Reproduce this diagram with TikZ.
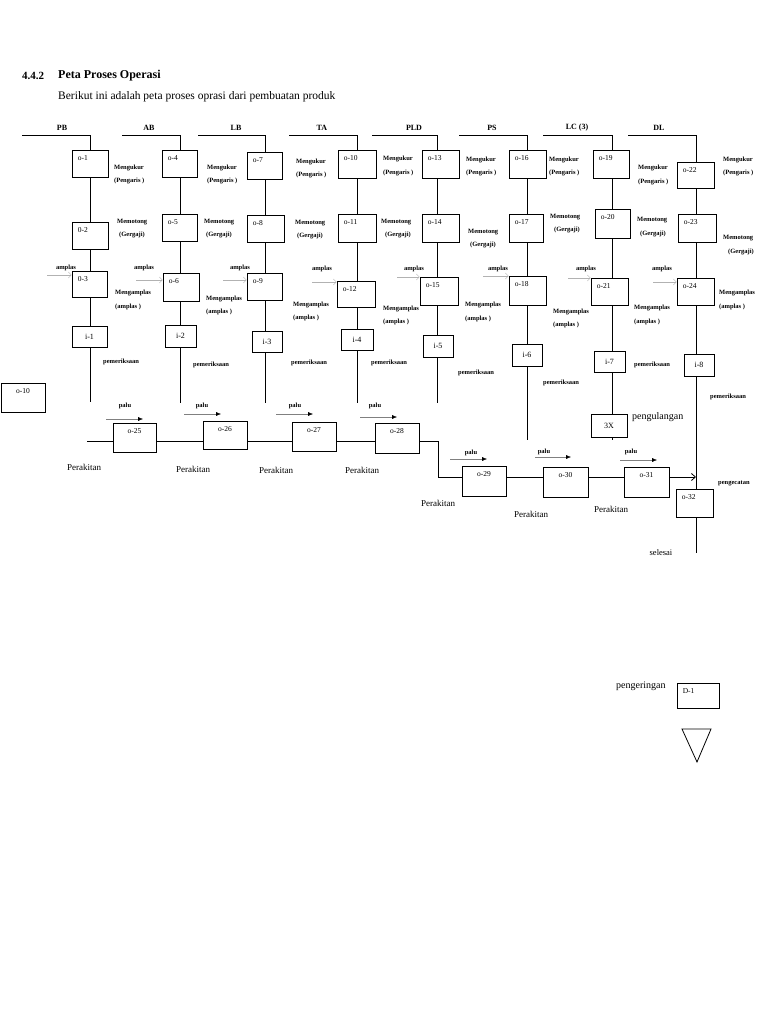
\documentclass[tikz,border=0pt]{standalone}
\usepackage{fontspec}
\setmainfont{Liberation Serif}
\usetikzlibrary{arrows.meta}
\newcommand\mkbox[6]{\node[box,minimum width={(#4-#2)*1pt},minimum height={(#5-#3)*1pt},#6] (#1) at ({(#2+#4)/2},{(#3+#5)/2}) {};}
\tikzset{
  box/.style={draw, fill=white, line width=0.8pt, inner sep=0pt},
  lbl/.style={font=\fontsize{7.5}{8}\selectfont, inner sep=0pt},
  TL/.style={label={[lbl,anchor=north west,xshift=6pt,yshift=-6pt]north west:#1}},
  TC/.style={label={[lbl,anchor=north,yshift=-6pt]north:#1}},
  CC/.style={label={[lbl,font=\fontsize{8}{9}\selectfont]center:#1}},
  sm/.style={font=\bfseries\fontsize{6.5}{7}\selectfont, inner sep=0pt, anchor=west},
  tiny/.style={font=\bfseries\fontsize{6.5}{7}\selectfont, inner sep=0pt},
  hdr/.style={font=\bfseries\fontsize{8}{9}\selectfont, inner sep=0pt},
  reg/.style={font=\fontsize{9}{10}\selectfont, inner sep=0pt},
  ln/.style={line width=0.8pt},
  paluarr/.style={gray, line width=0.4pt, -{Latex[black,length=5pt,width=4pt]}},
  amplarr/.style={gray!60, line width=0.4pt, -{Straight Barb[length=3pt,width=6pt]}},
}
\begin{document}
\begin{tikzpicture}[x=1pt,y=-1pt]
\useasboundingbox (0,0) rectangle (768,1024);
\fill[white] (0,0) rectangle (768,1024);
% title
\node[font=\bfseries\fontsize{11}{13}\selectfont, anchor=west, inner sep=0pt] (sec) at (22,76) {4.4.2};
\node[font=\bfseries\fontsize{12}{14}\selectfont, anchor=west, inner sep=0pt] (ttl) at (58,76) {Peta Proses Operasi};
\node[font=\fontsize{11.5}{13}\selectfont, anchor=west, inner sep=0pt] (sub) at (58,97) {Berikut ini adalah peta proses oprasi dari pembuatan produk};
% headers
\node[hdr] (hPB) at (62,128) {PB};
\node[hdr] (hAB) at (149,128) {AB};
\node[hdr] (hLB) at (236,128) {LB};
\node[hdr] (hTA) at (322,128) {TA};
\node[hdr] (hPLD) at (414,128) {PLD};
\node[hdr] (hPS) at (492,128) {PS};
\node[hdr] (hLC) at (577,128) {LC (3)};
\node[hdr] (hDL) at (659,128) {DL};
% column lines
\coordinate (pbL) at (22,135); \coordinate (pbT) at (90,135); \coordinate (pbB) at (90,402);
\coordinate (abL) at (122,135); \coordinate (abT) at (180,135); \coordinate (abB) at (180,403);
\coordinate (lbL) at (198,135); \coordinate (lbT) at (265,135); \coordinate (lbB) at (265,403);
\coordinate (taL) at (289,135); \coordinate (taT) at (357,135); \coordinate (taB) at (357,403);
\coordinate (pldL) at (372,135); \coordinate (pldT) at (437,135); \coordinate (pldB) at (437,403);
\coordinate (psL) at (459,135); \coordinate (psT) at (527,135); \coordinate (psB) at (527,440);
\coordinate (lcL) at (543,135); \coordinate (lcT) at (612,135); \coordinate (lcB) at (612,440);
\coordinate (dlL) at (628,135); \coordinate (dlT) at (696,135); \coordinate (dlB) at (696,553);
\draw[ln] (pbL) -- (pbT) -- (pbB);
\draw[ln] (abL) -- (abT) -- (abB);
\draw[ln] (lbL) -- (lbT) -- (lbB);
\draw[ln] (taL) -- (taT) -- (taB);
\draw[ln] (pldL) -- (pldT) -- (pldB);
\draw[ln] (psL) -- (psT) -- (psB);
\draw[ln] (lcL) -- (lcT) -- (lcB);
\draw[ln] (dlL) -- (dlT) -- (dlB);
% boxes PB
\mkbox{o1}{72}{150}{108}{177}{TL=o-1}
\mkbox{o2}{72}{222}{108}{249}{TL=0-2}
\mkbox{o3}{72}{271}{107}{297}{TL=0-3}
\mkbox{i1}{72}{326}{107}{347}{CC=i-1}
% AB
\mkbox{o4}{162}{150}{197}{177}{TL=o-4}
\mkbox{o5}{162}{214}{197}{241}{TL=o-5}
\mkbox{o6}{163}{273}{199}{301}{TL=o-6}
\mkbox{i2}{165}{325}{196}{347}{CC=i-2}
% LB
\mkbox{o7}{247}{152}{282}{179}{TL=o-7}
\mkbox{o8}{247}{215}{284}{242}{TL=o-8}
\mkbox{o9}{247}{273}{282}{300}{TL=o-9}
\mkbox{i3}{252}{331}{282}{352}{CC=i-3}
% TA
\mkbox{o10}{338}{150}{376}{178}{TL=o-10}
\mkbox{o11}{338}{214}{376}{242}{TL=o-11}
\mkbox{o12}{337}{281}{375}{307}{TL=o-12}
\mkbox{i4}{341}{329}{373}{350}{CC=i-4}
% PLD
\mkbox{o13}{422}{150}{459}{178}{TL=o-13}
\mkbox{o14}{422}{214}{459}{242}{TL=o-14}
\mkbox{o15}{420}{277}{458}{305}{TL=o-15}
\mkbox{i5}{423}{335}{453}{357}{CC=i-5}
% PS
\mkbox{o16}{509}{150}{546}{178}{TL=o-16}
\mkbox{o17}{509}{214}{543}{242}{TL=o-17}
\mkbox{o18}{509}{276}{546}{305}{TL=o-18}
\mkbox{i6}{512}{344}{542}{366}{CC=i-6}
% LC
\mkbox{o19}{593}{150}{629}{178}{TL=o-19}
\mkbox{o20}{595}{209}{630}{238}{TL=o-20}
\mkbox{o21}{591}{278}{628}{305}{TL=o-21}
\mkbox{i7}{594}{351}{625}{372}{CC=i-7}
\mkbox{x3}{591}{414}{627}{437}{CC=3X}
% DL
\mkbox{o22}{677}{162}{714}{188}{TL=o-22}
\mkbox{o23}{678}{214}{716}{242}{TL=o-23}
\mkbox{o24}{677}{278}{714}{305}{TL=o-24}
\mkbox{i8}{684}{354}{714}{376}{CC=i-8}
\mkbox{o32}{676}{489}{713}{517}{TL=o-32}
% stand-alone
\mkbox{o10b}{1}{383}{45}{412}{TC=o-10}
% assembly
\mkbox{o25}{113}{423}{156}{452}{TC=o-25}
\mkbox{o26}{203}{421}{247}{449}{TC=o-26}
\mkbox{o27}{292}{422}{336}{451}{TC=o-27}
\mkbox{o28}{375}{423}{419}{453}{TC=o-28}
\mkbox{o29}{462}{466}{506}{496}{TC=o-29}
\mkbox{o30}{543}{467}{588}{497}{TC=o-30}
\mkbox{o31}{624}{467}{669}{497}{TC=o-31}
\coordinate (asmL) at (87,441);
\coordinate (bendA) at (438,441);
\coordinate (bendB) at (438,477);
\coordinate (arrEnd) at (696,477);
\draw[ln] (asmL) -- (asmL -| o25.west);
\draw[ln] (o25.east |- asmL) -- (o26.west |- asmL);
\draw[ln] (o26.east |- asmL) -- (o27.west |- asmL);
\draw[ln] (o27.east |- asmL) -- (o28.west |- asmL);
\draw[ln] (o28.east |- asmL) -- (bendA) -- (bendB) -- (bendB -| o29.west);
\draw[ln] (o29.east |- bendB) -- (o30.west |- bendB);
\draw[ln] (o30.east |- bendB) -- (o31.west |- bendB);
\draw[ln,-{Straight Barb[length=4pt,width=7pt]}] (o31.east |- bendB) -- (arrEnd);
% palu
\node[tiny] (p25) at (125,406) {palu}; \coordinate (p25s) at (106,419); \coordinate (p25e) at (143,419);
\node[tiny] (p26) at (202,406) {palu}; \coordinate (p26s) at (184,414); \coordinate (p26e) at (221,414);
\node[tiny] (p27) at (295,406) {palu}; \coordinate (p27s) at (276,414); \coordinate (p27e) at (313,414);
\node[tiny] (p28) at (375,406) {palu}; \coordinate (p28s) at (360,417); \coordinate (p28e) at (397,417);
\node[tiny] (p29) at (471,453) {palu}; \coordinate (p29s) at (450,459); \coordinate (p29e) at (487,459);
\node[tiny] (p30) at (544,452) {palu}; \coordinate (p30s) at (535,457); \coordinate (p30e) at (571,457);
\node[tiny] (p31) at (631,452) {palu}; \coordinate (p31s) at (620,460); \coordinate (p31e) at (657,460);
\foreach \n in {25,...,31} {\draw[paluarr] (p\n s) -- (p\n e);}
% amplas
\node[tiny] (a1) at (66,268) {amplas}; \coordinate (a1s) at (47,275);
\node[tiny] (a2) at (144,268) {amplas}; \coordinate (a2s) at (136,280);
\node[tiny] (a3) at (240,268) {amplas}; \coordinate (a3s) at (223,280);
\node[tiny] (a4) at (322,269) {amplas}; \coordinate (a4s) at (312,282);
\node[tiny] (a5) at (414,269) {amplas}; \coordinate (a5s) at (397,277);
\node[tiny] (a6) at (498,269) {amplas}; \coordinate (a6s) at (483,276);
\node[tiny] (a7) at (586,269) {amplas}; \coordinate (a7s) at (568,278);
\node[tiny] (a8) at (662,269) {amplas}; \coordinate (a8s) at (653,282);
\draw[amplarr] (a1s) -- (a1s -| o3.west);
\draw[amplarr] (a2s) -- (a2s -| o6.west);
\draw[amplarr] (a3s) -- (a3s -| o9.west);
\draw[amplarr] (a4s) -- (a4s -| o12.west);
\draw[amplarr] (a5s) -- (a5s -| o15.west);
\draw[amplarr] (a6s) -- (a6s -| o18.west);
\draw[amplarr] (a7s) -- (a7s -| o21.west);
\draw[amplarr] (a8s) -- (a8s -| o24.west);
% side labels
\node[sm] (k1a) at (114,168) {Mengukur}; \node[sm] (k1b) at (114,181) {(Pengaris )};
\node[sm] (g1a) at (117,222) {Memotong}; \node[sm] (g1b) at (119,235) {(Gergaji)};
\node[sm] (m1a) at (115,293) {Mengamplas}; \node[sm] (m1b) at (115,307) {(amplas )};
\node[sm] (e1) at (103,362) {pemeriksaan};
\node[sm] (k2a) at (207,168) {Mengukur}; \node[sm] (k2b) at (207,181) {(Pengaris )};
\node[sm] (g2a) at (204,222) {Memotong}; \node[sm] (g2b) at (206,235) {(Gergaji)};
\node[sm] (m2a) at (206,299) {Mengamplas}; \node[sm] (m2b) at (206,312) {(amplas )};
\node[sm] (e2) at (193,365) {pemeriksaan};
\node[sm] (k3a) at (296,162) {Mengukur}; \node[sm] (k3b) at (296,175) {(Pengaris )};
\node[sm] (g3a) at (295,223) {Memotong}; \node[sm] (g3b) at (297,236) {(Gergaji)};
\node[sm] (m3a) at (293,305) {Mengamplas}; \node[sm] (m3b) at (293,318) {(amplas )};
\node[sm] (e3) at (291,363) {pemeriksaan};
\node[sm] (k4a) at (383,159) {Mengukur}; \node[sm] (k4b) at (383,173) {(Pengaris )};
\node[sm] (g4a) at (381,222) {Memotong}; \node[sm] (g4b) at (385,235) {(Gergaji)};
\node[sm] (m4a) at (383,309) {Mengamplas}; \node[sm] (m4b) at (383,322) {(amplas )};
\node[sm] (e4) at (371,363) {pemeriksaan};
\node[sm] (k5a) at (466,160) {Mengukur}; \node[sm] (k5b) at (466,173) {(Pengaris )};
\node[sm] (g5a) at (468,232) {Memotong}; \node[sm] (g5b) at (470,245) {(Gergaji)};
\node[sm] (m5a) at (465,305) {Mengamplas}; \node[sm] (m5b) at (465,319) {(amplas )};
\node[sm] (e5) at (458,373) {pemeriksaan};
\node[sm] (k6a) at (549,160) {Mengukur}; \node[sm] (k6b) at (549,173) {(Pengaris )};
\node[sm] (g6a) at (550,217) {Memotong}; \node[sm] (g6b) at (554,230) {(Gergaji)};
\node[sm] (m6a) at (553,312) {Mengamplas}; \node[sm] (m6b) at (553,325) {(amplas )};
\node[sm] (e6) at (543,383) {pemeriksaan};
\node[sm] (k7a) at (638,168) {Mengukur}; \node[sm] (k7b) at (638,182) {(Pengaris )};
\node[sm] (g7a) at (637,220) {Memotong}; \node[sm] (g7b) at (640,234) {(Gergaji)};
\node[sm] (m7a) at (634,308) {Mengamplas}; \node[sm] (m7b) at (634,322) {(amplas )};
\node[sm] (e7) at (634,365) {pemeriksaan};
\node[sm] (k8a) at (723,160) {Mengukur}; \node[sm] (k8b) at (723,173) {(Pengaris )};
\node[sm] (g8a) at (723,238) {Memotong}; \node[sm] (g8b) at (728,252) {(Gergaji)};
\node[sm] (m8a) at (719,293) {Mengamplas}; \node[sm] (m8b) at (719,307) {(amplas )};
\node[sm] (e8) at (710,397) {pemeriksaan};
\node[sm] (cat) at (718,483) {pengecatan};
\node[reg,font=\fontsize{10}{11}\selectfont,anchor=west] (ulang) at (632,417) {pengulangan};
% Perakitan
\node[reg] (r1) at (84,467) {Perakitan};
\node[reg] (r2) at (193,469) {Perakitan};
\node[reg] (r3) at (276,470) {Perakitan};
\node[reg] (r4) at (362,470) {Perakitan};
\node[reg] (r5) at (438,503) {Perakitan};
\node[reg] (r6) at (531,514) {Perakitan};
\node[reg] (r7) at (611,509) {Perakitan};
\node[reg,font=\fontsize{8.5}{9}\selectfont] (sel) at (661,553) {selesai};
% bottom
\node[reg,font=\fontsize{10}{11}\selectfont,anchor=west] (kering) at (616,686) {pengeringan};
\mkbox{D1}{677}{683}{719}{708}{TL=D-1}
\draw[line width=0.8pt] (682,729) -- (711,729) -- (697,762) -- cycle;
\end{tikzpicture}
\end{document}
